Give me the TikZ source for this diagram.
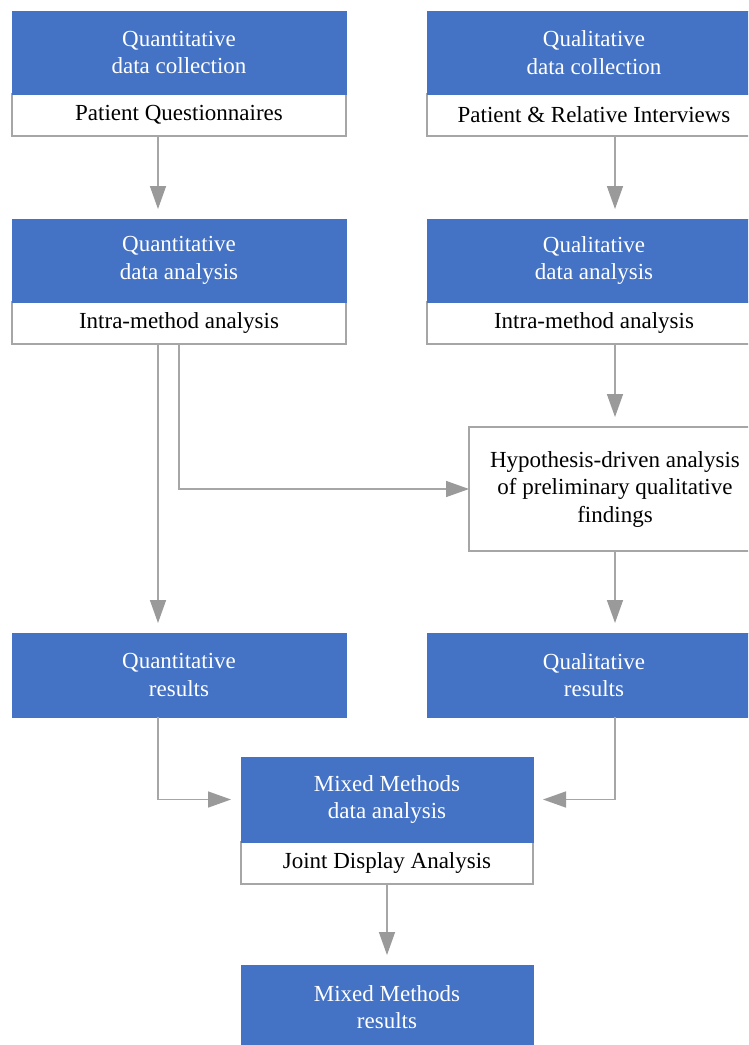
\documentclass[tikz,border=0pt]{standalone}
\usepackage{fontspec}
\setmainfont{Liberation Serif}
\usetikzlibrary{arrows.meta,calc}
\definecolor{boxblue}{HTML}{4472C4}
\definecolor{linegray}{HTML}{A6A6A6}
\definecolor{tipgray}{HTML}{9A9A9A}
\begin{document}
\begin{tikzpicture}[x=1pt,y=-1pt,
  basebox/.style={inner sep=0pt,outer sep=0pt,align=center,
    font=\fontsize{23}{27.5}\selectfont},
  bluebox/.style={basebox,fill=boxblue,draw=boxblue,line width=0.6pt,text=white,
    minimum width=#1,minimum height=83pt},
  bluebox/.default=334pt,
  whitebox/.style={basebox,fill=white,draw=linegray,line width=1.2pt,text=black,
    minimum width=#1,minimum height=42pt},
  whitebox/.default=334pt,
  arr/.style={draw=linegray,line width=1.5pt,
    -{Triangle[length=23pt,width=16pt,color=tipgray,fill=tipgray]},shorten >=10pt}
]
\clip (0,0) rectangle (748,1045);
\fill[white] (0,0) rectangle (748,1045);

% row 1
\node[whitebox,anchor=north west] (qncw) at (12,94) {Patient Questionnaires};
\node[bluebox,anchor=north west] (qnc) at (12,11) {Quantitative\\data collection};
\node[whitebox,anchor=north west] (qlcw) at (427,94) {Patient \& Relative Interviews};
\node[bluebox,anchor=north west] (qlc) at (427,11) {Qualitative\\data collection};

% row 2
\node[whitebox,anchor=north west] (qnaw) at (12,302) {Intra-method analysis};
\node[bluebox,anchor=north west] (qna) at (12,219) {Quantitative\\data analysis};
\node[whitebox,anchor=north west] (qlaw) at (427,302) {Intra-method analysis};
\node[bluebox,anchor=north west] (qla) at (427,219) {Qualitative\\data analysis};

% hypothesis
\node[basebox,fill=white,draw=linegray,line width=1.2pt,minimum width=292pt,
  minimum height=124pt,anchor=north west] (hyp) at (469,427)
  {Hypothesis-driven analysis\\of preliminary qualitative\\findings};

% results
\node[bluebox,minimum height=84pt,anchor=north west] (qnr) at (12,633) {Quantitative\\results};
\node[bluebox,minimum height=84pt,anchor=north west] (qlr) at (427,633) {Qualitative\\results};

% mixed
\node[whitebox=292pt,anchor=north west] (mmaw) at (241,842) {Joint Display Analysis};
\node[bluebox=292pt,minimum height=85pt,anchor=north west] (mma) at (241,757) {Mixed Methods\\data analysis};
\node[bluebox=292pt,minimum height=84pt,anchor=north west] (mmr) at (241,965) {Mixed Methods\\results};

% connectors
\draw[arr] ([xshift=-21pt]qncw.south) -- ([xshift=-21pt]qna.north);
\draw[arr] ([xshift=21pt]qlcw.south) -- ([xshift=21pt]qla.north);
\draw[arr,shorten >=0pt] (qnaw.south) |- (hyp.west);
\draw[arr] ([xshift=-21pt]qnaw.south) -- ([xshift=-21pt]qnr.north);
\draw[arr] ([xshift=21pt]qlaw.south) -- (hyp.north);
\draw[arr] (hyp.south) -- ([xshift=21pt]qlr.north);
\draw[arr] ([xshift=-21pt]qnr.south) |- (mma.west);
\draw[arr] ([xshift=21pt]qlr.south) |- (mma.east);
\draw[arr] (mmaw.south) -- (mmr.north);
\end{tikzpicture}
\end{document}
